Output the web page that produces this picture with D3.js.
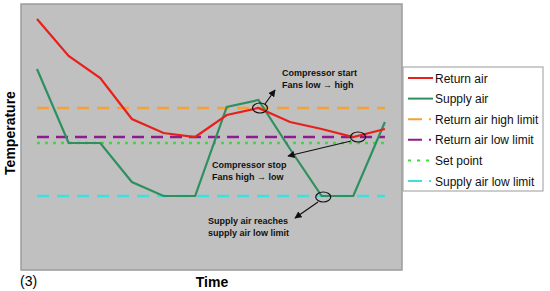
<!DOCTYPE html>
<html>
<head>
<meta charset="utf-8">
<script src="https://cdn.jsdelivr.net/npm/d3@7"></script>
<style>
body { margin: 0; background: #fff; }
text { font-family: Arial, "Liberation Sans", sans-serif; }
</style>
</head>
<body>
<div id="chart"></div>
<script>
// time steps (no tick labels shown)
var steps = [0, 1, 2, 3, 4, 5, 6, 7, 8, 9, 10, 11];
// temperatures, arbitrary units
var returnAir = [25.1, 21.4, 19.2, 15.1, 13.7, 13.3, 15.5, 16.2, 14.8, 14.1, 13.3, 14.1];
var supplyAir = [20.1, 12.7, 12.7, 8.8, 7.4, 7.4, 16.3, 17.0, 12.1, 7.4, 7.4, 14.8];
var returnHigh = 16.2;
var returnLow = 13.3;
var setPoint = 12.7;
var supplyLow = 7.4;

var legendNames = ["Return air", "Supply air", "Return air high limit", "Return air low limit", "Set point", "Supply air low limit"];

var W = 550, H = 291;
var plot = {left: 21, right: 402, top: 4, bottom: 270};

var svg = d3.select("#chart").append("svg")
	.attr("width", W)
	.attr("height", H);

var defs = svg.append("defs");
defs.append("marker")
	.attr("id", "arrow")
	.attr("viewBox", "0 0 10 10")
	.attr("refX", 9).attr("refY", 5)
	.attr("markerWidth", 6).attr("markerHeight", 6)
	.attr("orient", "auto")
	.append("path")
	.attr("d", "M0,0 L10,5 L0,10 z")
	.attr("fill", "#111");

var x = d3.scaleLinear().domain([-0.506, 11.54]).range([plot.left, plot.right]);
var y = d3.scaleLinear().domain([0, 26.6]).range([plot.bottom, plot.top]);

//PLOT AREA
svg.append("rect")
	.attr("x", plot.left).attr("y", plot.top)
	.attr("width", plot.right - plot.left)
	.attr("height", plot.bottom - plot.top)
	.attr("fill", "#c0c0c0")
	.attr("stroke", "#9c9c9c")
	.attr("stroke-width", 1.5);

var limits = [
	{v: returnHigh, color: "#f7a035", dash: "12,8"},
	{v: returnLow, color: "#8e1c8e", dash: "12,7"},
	{v: setPoint, color: "#3ddc3d", dash: "3,5"},
	{v: supplyLow, color: "#3de0e0", dash: "12,8"}
];

limits.forEach(function(l){
	svg.append("line")
		.attr("x1", x(steps[0])).attr("x2", x(steps[steps.length - 1]))
		.attr("y1", y(l.v)).attr("y2", y(l.v))
		.attr("stroke", l.color)
		.attr("stroke-width", 2.5)
		.attr("stroke-dasharray", l.dash);
});

var line = d3.line()
	.x(function(d, i){ return x(steps[i]); })
	.y(function(d){ return y(d); });

svg.append("path")
	.datum(supplyAir)
	.attr("d", line)
	.attr("fill", "none")
	.attr("stroke", "#2f8f5f")
	.attr("stroke-width", 2.2);

svg.append("path")
	.datum(returnAir)
	.attr("d", line)
	.attr("fill", "none")
	.attr("stroke", "#e8201c")
	.attr("stroke-width", 2.2);

//ANNOTATIONS
function ellipse(i, v){
	svg.append("ellipse")
		.attr("cx", x(i)).attr("cy", y(v))
		.attr("rx", 7.5).attr("ry", 5)
		.attr("fill", "none")
		.attr("stroke", "#111")
		.attr("stroke-width", 1.2);
}
ellipse(7.05, 16.2);
ellipse(10.15, 13.3);
ellipse(9.05, 7.3);

function arrow(x1, y1, x2, y2){
	svg.append("line")
		.attr("x1", x1).attr("y1", y1).attr("x2", x2).attr("y2", y2)
		.attr("stroke", "#111")
		.attr("stroke-width", 1.2)
		.attr("marker-end", "url(#arrow)");
}
arrow(265, 104, 275, 90);
arrow(351, 141, 288, 156);
arrow(318, 202, 295, 218);

function note(x0, y0, lines, size){
	var t = svg.append("text")
		.attr("x", x0).attr("y", y0)
		.attr("font-size", size)
		.attr("font-weight", "bold")
		.attr("fill", "#111");
	lines.forEach(function(s, i){
		t.append("tspan").attr("x", x0).attr("dy", i ? 12 : 0).text(s);
	});
}
note(282, 76, ["Compressor start", "Fans low \u2192 high"], 9);
note(212, 168, ["Compressor stop", "Fans high \u2192 low"], 9);
note(208, 224, ["Supply air reaches", "supply air low limit"], 9);

//AXIS TITLES
svg.append("text")
	.attr("transform", "translate(15,133) rotate(-90)")
	.attr("text-anchor", "middle")
	.attr("font-size", 14)
	.attr("font-weight", "bold")
	.text("Temperature");

svg.append("text")
	.attr("x", 212).attr("y", 287)
	.attr("text-anchor", "middle")
	.attr("font-size", 14)
	.attr("font-weight", "bold")
	.text("Time");

svg.append("text")
	.attr("x", 20).attr("y", 286)
	.attr("font-size", 14)
	.text("(3)");

//LEGEND
var legend = svg.append("g");
legend.append("rect")
	.attr("x", 403).attr("y", 67)
	.attr("width", 140).attr("height", 124)
	.attr("fill", "#fff")
	.attr("stroke", "#9a9a9a")
	.attr("stroke-width", 1);

var legendStyles = [
	{color: "#e8201c", dash: null},
	{color: "#2f8f5f", dash: null},
	{color: "#f7a035", dash: "14,7,2,10"},
	{color: "#8e1c8e", dash: "14,7,2,10"},
	{color: "#3ddc3d", dash: "3,6"},
	{color: "#3de0e0", dash: "14,7,2,10"}
];

legendNames.forEach(function(name, i){
	var ry = 78 + i * 20.6;
	legend.append("line")
		.attr("x1", 408).attr("x2", 433)
		.attr("y1", ry).attr("y2", ry)
		.attr("stroke", legendStyles[i].color)
		.attr("stroke-width", 2)
		.attr("stroke-dasharray", legendStyles[i].dash);
	legend.append("text")
		.attr("x", 435).attr("y", ry + 4.5)
		.attr("font-size", 12)
		.attr("fill", "#111")
		.text(name);
});
</script>
</body>
</html>
